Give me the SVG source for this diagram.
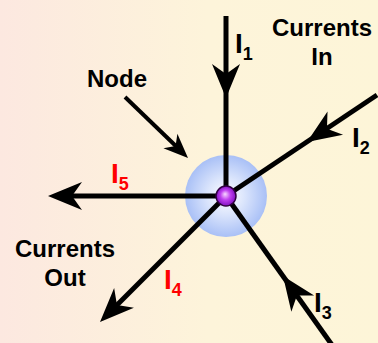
<svg xmlns="http://www.w3.org/2000/svg" width="378" height="343" viewBox="0 0 378 343">
<defs>
<linearGradient id="bg" x1="0" y1="0" x2="1" y2="0">
<stop offset="0" stop-color="#fce8e0"/>
<stop offset="0.55" stop-color="#fdf4da"/>
<stop offset="1" stop-color="#fdf5d8"/>
</linearGradient>
<radialGradient id="halo" cx="0.5" cy="0.5" r="0.5">
<stop offset="0" stop-color="#ffffff"/>
<stop offset="0.45" stop-color="#dbe5fc"/>
<stop offset="1" stop-color="#a9c0f6"/>
</radialGradient>
<radialGradient id="dot" cx="0.5" cy="0.5" r="0.5" fx="0.45" fy="0.4">
<stop offset="0" stop-color="#f8d8ff"/>
<stop offset="0.5" stop-color="#c040f0"/>
<stop offset="1" stop-color="#8010c0"/>
</radialGradient>
<path id="ah" d="M0,0 L-34,-14 L-24,0 L-34,14 Z"/>
</defs>
<style>
.ln{stroke:#000;stroke-width:5;fill:none}
.lbl{font-family:"Liberation Sans",Arial,sans-serif;font-weight:bold;fill:#000}
.big{font-size:24px}
.cur{font-size:28px}
.sub{font-size:18px}
.red{fill:#ff0000}
</style>
<rect width="378" height="343" fill="url(#bg)"/>
<g id="node">
<circle cx="226" cy="196" r="41" fill="url(#halo)"/>
</g>
<g id="connectors">
<line class="ln" x1="226" y1="16" x2="226" y2="196"/>
<line class="ln" x1="377" y1="95" x2="226" y2="196"/>
<line class="ln" x1="226" y1="196" x2="332" y2="345"/>
<line class="ln" x1="226" y1="196" x2="110" y2="312"/>
<line class="ln" x1="226" y1="196" x2="62" y2="196"/>
<line stroke="#000" stroke-width="4" x1="125" y1="97" x2="180" y2="150"/>
<use href="#ah" transform="translate(226,98) rotate(90)"/>
<use href="#ah" transform="translate(307,142) rotate(146.3)"/>
<use href="#ah" transform="translate(283,276) rotate(234.5)"/>
<use href="#ah" transform="translate(100,322) rotate(135)"/>
<use href="#ah" transform="translate(48,196) rotate(180)"/>
<use href="#ah" transform="translate(188,158) rotate(44) scale(0.72)"/>
</g>
<g id="junction">
<circle cx="226" cy="196" r="10" fill="url(#dot)" stroke="#300040" stroke-width="1.5"/>
</g>
<g id="labels">
<text class="lbl big" x="322" y="36" text-anchor="middle">Currents</text>
<text class="lbl big" x="322" y="65" text-anchor="middle">In</text>
<text class="lbl big" x="117" y="87" text-anchor="middle">Node</text>
<text class="lbl big" x="65" y="257" text-anchor="middle">Currents</text>
<text class="lbl big" x="65" y="286" text-anchor="middle">Out</text>
<text class="lbl cur" x="235" y="53">I<tspan class="sub" dy="7">1</tspan></text>
<text class="lbl cur" x="352" y="147">I<tspan class="sub" dy="7">2</tspan></text>
<text class="lbl cur" x="314" y="312">I<tspan class="sub" dy="7">3</tspan></text>
<text class="lbl cur red" x="164" y="289">I<tspan class="sub" dy="7">4</tspan></text>
<text class="lbl cur red" x="111" y="183">I<tspan class="sub" dy="7">5</tspan></text>
</g>
</svg>
